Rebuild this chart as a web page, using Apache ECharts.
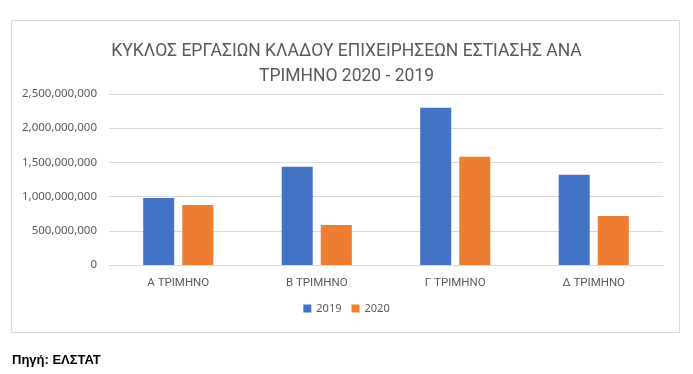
<!DOCTYPE html>
<html>
<head>
<meta charset="utf-8">
<script src="https://cdn.jsdelivr.net/npm/echarts@6/dist/echarts.min.js"></script>
<style>html,body{margin:0;padding:0;background:#fff;}#c{width:693px;height:374px;}</style>
</head>
<body>
<div id="c"></div>
<script>
const categories = ['Α ΤΡΙΜΗΝΟ', 'Β ΤΡΙΜΗΝΟ', 'Γ ΤΡΙΜΗΝΟ', 'Δ ΤΡΙΜΗΝΟ'];
const values2019 = [980000000, 1435000000, 2300000000, 1318000000];
const values2020 = [878000000, 586000000, 1581000000, 717000000];
const seriesNames = ['2019', '2020'];
const titleLines = ['ΚΥΚΛΟΣ ΕΡΓΑΣΙΩΝ ΚΛΑΔΟΥ ΕΠΙΧΕΙΡΗΣΕΩΝ ΕΣΤΙΑΣΗΣ ΑΝΑ', 'ΤΡΙΜΗΝΟ 2020 - 2019'];
const sourceText = 'Πηγή: ΕΛΣΤΑΤ';

const chart = echarts.init(document.getElementById('c'), null, {renderer: 'canvas'});
const fmt = v => String(v).replace(/\B(?=(\d{3})+(?!\d))/g, ',');
chart.setOption({
  animation: false,
  backgroundColor: '#fff',
  title: {
    text: titleLines.join('\n'),
    left: 'center',
    top: 34,
    textStyle: {fontFamily: 'Roboto, sans-serif', fontWeight: 'normal', fontSize: 17.5, color: '#595959', lineHeight: 25}
  },
  legend: {
    data: seriesNames,
    bottom: 55,
    left: 'center',
    itemWidth: 8, itemHeight: 8, itemGap: 10,
    textStyle: {fontFamily: 'Noto Sans, sans-serif', fontSize: 11, color: '#595959'},
    icon: 'rect'
  },
  grid: {left: 109, right: 30, top: 94, bottom: 109, containLabel: false},
  xAxis: {
    type: 'category', data: categories,
    axisLine: {lineStyle: {color: '#d9d9d9'}},
    axisTick: {show: false},
    axisLabel: {fontFamily: 'Roboto, sans-serif', fontSize: 11.5, color: '#595959', margin: 12}
  },
  yAxis: {
    type: 'value', min: 0, max: 2500000000, interval: 500000000,
    axisLine: {show: false}, axisTick: {show: false},
    splitLine: {lineStyle: {color: '#d9d9d9'}},
    axisLabel: {fontFamily: 'Noto Sans, sans-serif', fontSize: 11.5, color: '#595959', margin: 12, formatter: fmt}
  },
  series: [
    {name: seriesNames[0], type: 'bar', data: values2019, barWidth: '22.4%', barGap: '26%', itemStyle: {color: '#4472C4'}},
    {name: seriesNames[1], type: 'bar', data: values2020, barWidth: '22.4%', barGap: '26%', itemStyle: {color: '#ED7D31'}}
  ],
  graphic: [
    {type: 'rect', shape: {x: 11.5, y: 20.5, width: 668, height: 312}, style: {fill: 'none', stroke: '#d9d9d9', lineWidth: 1}, silent: true, z: -1},
    {type: 'text', left: 12, top: 354, style: {text: sourceText, font: 'bold 13px "Liberation Sans Narrow", sans-serif', fill: '#000'}}
  ]
});
</script>
</body>
</html>
